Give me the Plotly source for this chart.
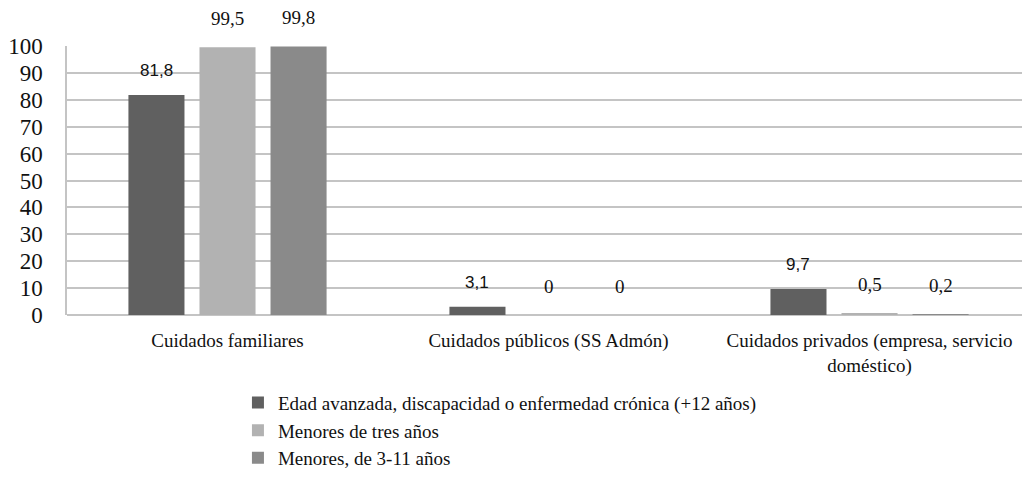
import plotly.graph_objects as go

categories = ["Cuidados familiares", "Cuidados públicos (SS Admón)",
              "Cuidados privados (empresa, servicio<br>doméstico)"]
series_names = ["Edad avanzada, discapacidad o enfermedad crónica (+12 años)",
                "Menores de tres años",
                "Menores, de 3-11 años"]
edad_avanzada = [81.8, 3.1, 9.7]
menores_tres = [99.5, 0, 0.5]
menores_3_11 = [99.8, 0, 0.2]
y_ticks = [0, 10, 20, 30, 40, 50, 60, 70, 80, 90, 100]

SERIF = "Liberation Serif"
SANS = "Liberation Sans"
colors = ["#606060", "#b2b2b2", "#8a8a8a"]
label_fonts = [dict(family=SANS, size=17, color="#111111"),
               dict(family=SERIF, size=19, color="#111111"),
               dict(family=SERIF, size=19, color="#111111")]
label_shift = [24, 29, 29]

BARGAP = 0.336
BARGROUPGAP = 0.211

def fmt(v):
    return f"{v:g}".replace(".", ",")

x_idx = list(range(len(categories)))
all_series = [edad_avanzada, menores_tres, menores_3_11]
n_series = len(all_series)
slot = (1 - BARGAP) / n_series

fig = go.Figure()
for j, (name, vals, col) in enumerate(zip(series_names, all_series, colors)):
    fig.add_trace(go.Bar(
        x=x_idx, y=vals, name=name, marker=dict(color=col, line=dict(width=0)),
        cliponaxis=False, legendgroup=f"g{j}", hoverinfo="skip",
    ))
    for i, v in enumerate(vals):
        fig.add_annotation(
            x=i + (j - (n_series - 1) / 2) * slot, y=v, text=fmt(v),
            showarrow=False, xanchor="center", yanchor="middle",
            yshift=label_shift[j], font=label_fonts[j],
        )

fig.update_layout(
    width=1022, height=477,
    margin=dict(l=67, r=0, t=46, b=162, autoexpand=False),
    paper_bgcolor="white", plot_bgcolor="white",
    barmode="group", bargap=BARGAP, bargroupgap=BARGROUPGAP,
    font=dict(family=SERIF, size=19, color="#111111"),
    showlegend=True,
    legend=dict(orientation="v", x=0.179, y=-0.255, xanchor="left", yanchor="top",
                font=dict(family=SERIF, size=19, color="#111111"),
                itemwidth=30, tracegroupgap=4.5, traceorder="normal"),
    xaxis=dict(tickvals=x_idx, ticktext=categories, range=[-0.5, 2.475],
               showgrid=False, showline=False, zeroline=False, ticks="",
               automargin=False,
               tickfont=dict(family=SERIF, size=19), ticklabelstandoff=12),
    yaxis=dict(range=[0, 100], tickvals=y_ticks, showgrid=True, gridcolor="#c4c4c4",
               gridwidth=1.5, showline=True, linecolor="#c4c4c4", linewidth=1.5,
               zeroline=True, zerolinecolor="#c4c4c4", zerolinewidth=2, ticks="",
               automargin=False,
               tickfont=dict(family=SERIF, size=23), ticklabelstandoff=18),
)

fig.write_html("out.html", config={"displayModeBar": False},
               post_script="document.body.style.margin='0';")
